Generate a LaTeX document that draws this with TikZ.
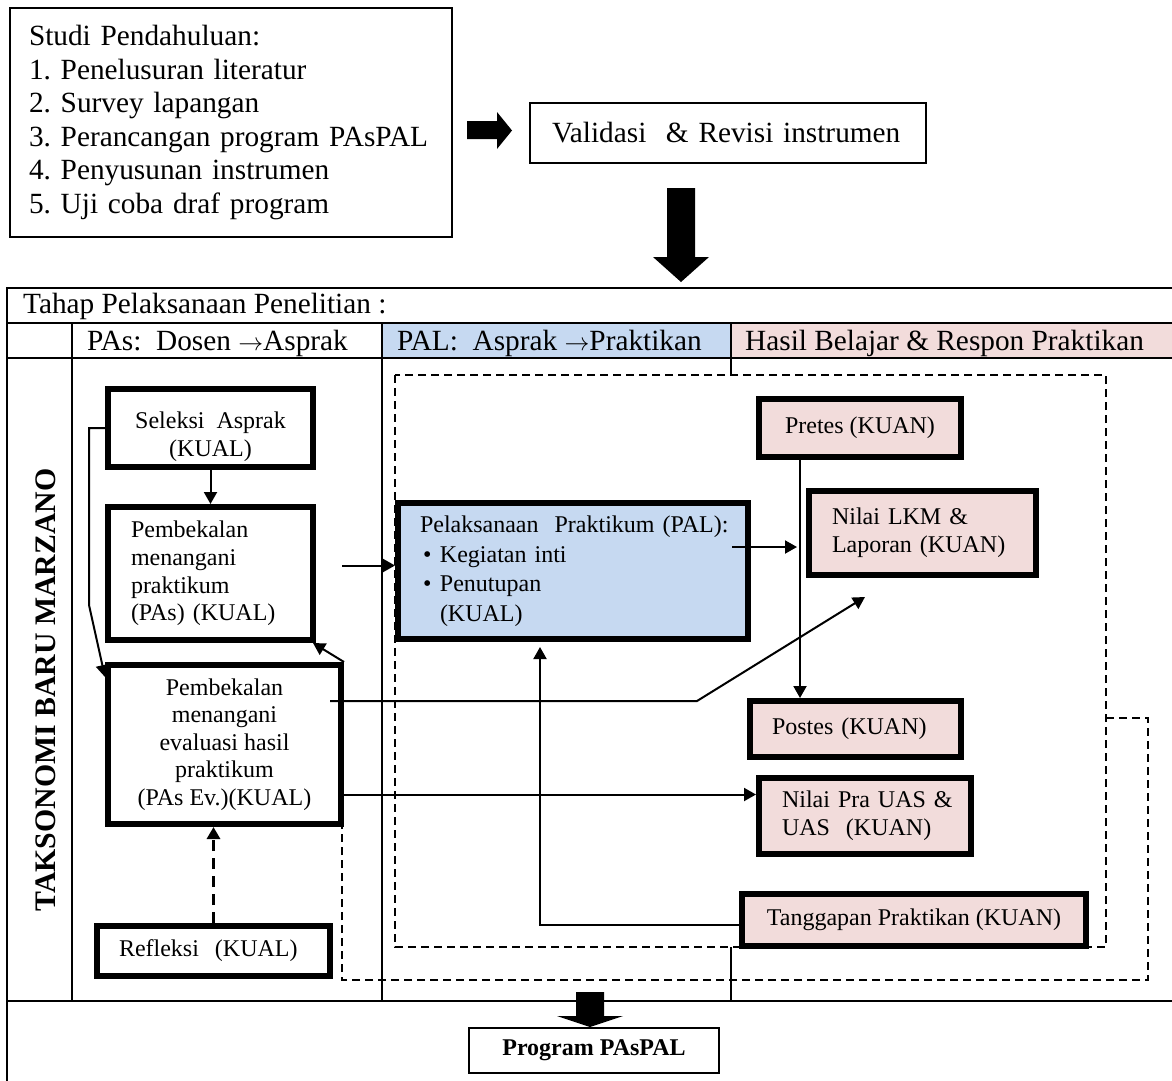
\documentclass[tikz,border=0pt]{standalone}
\usepackage{fontspec}
\setmainfont{Liberation Serif}
\usepackage{tikz}
\usetikzlibrary{arrows.meta}
\definecolor{palblue}{HTML}{C6D9F1}
\definecolor{hasilpink}{HTML}{F2DCDB}
\newcommand{\besar}{\fontsize{29.3}{33.6}\selectfont}
\newcommand{\kecil}{\fontsize{24}{27.6}\selectfont}
\frenchspacing
\tikzset{every edge/.style={draw},
  tebal/.style={draw, line width=5.7pt, inner sep=0pt, font=\kecil},
  tipis/.style={draw, line width=2pt, inner sep=0pt, font=\besar},
  panah/.style={line width=2pt, -{Triangle[length=12pt,width=13pt]}},
  putus/.style={line width=1.6pt, dash pattern=on 8pt off 5pt},
  garis/.style={line width=2pt}}

\begin{document}
\begin{tikzpicture}[x=1pt, y=-1pt]
    \useasboundingbox (0, 0) rectangle (1172, 1080);

    % studi pendahuluan
    \node[tipis, align=left, text width=404pt, minimum width=442pt, minimum height=229pt] at (231, 122.5) (studi) {Studi Pendahuluan:\\1. Penelusuran literatur\\2. Survey lapangan\\\mbox{3. Perancangan program PAsPAL}\\4. Penyusunan instrumen\\5. Uji coba draf program};
    \node[tipis, align=left, text width=352pt, minimum width=396pt, minimum height=60pt] at (728, 133) (valid) {Validasi\ \ \& Revisi instrumen};
    \fill (467, 121) -- (497, 121) -- (497, 112) -- (512, 130.5) -- (497, 149) -- (497, 139) -- (467, 139) -- cycle;
    \fill (667, 188) -- (695, 188) -- (695, 257) -- (709, 257) -- (681, 282) -- (653, 257) -- (667, 257) -- cycle;

    % tabel
    \fill[palblue] (382, 323) rectangle (731, 358);
    \fill[hasilpink] (731, 323) rectangle (1180, 358);
    \draw[garis] (7, 1090) -- (7, 288) -- (1180, 288);
    \draw[garis] (7, 323) -- (1180, 323);
    \draw[garis] (7, 358) -- (1180, 358);
    \draw[garis] (7, 1001) -- (1180, 1001);
    \draw[garis] (72, 323) -- (72, 1001);
    \draw[garis] (382, 323) -- (382, 1001);
    \draw[garis] (731, 323) -- (731, 375);
    \draw[garis] (731, 947) -- (731, 1001);
    \node[font=\besar, anchor=base west, inner sep=0pt] at (23, 313) (tahap) {Tahap Pelaksanaan Penelitian :};
    \node[font=\besar, anchor=base west, inner sep=0pt] at (87, 350) (kolPAs) {PAs:\ \ Dosen $\rightarrow$Asprak};
    \node[font=\besar, anchor=base west, inner sep=0pt] at (397, 350) (kolPAL) {PAL:\ \ Asprak $\rightarrow$Praktikan};
    \node[font=\besar, anchor=base west, inner sep=0pt] at (745, 350) (kolHasil) {Hasil Belajar \& Respon Praktikan};
    \node[font=\fontsize{29.8}{34}\selectfont, rotate=90] at (46, 690) (marzano) {\textbf{TAKSONOMI BARU MARZANO}};

    \draw[putus] (395, 375) rectangle (1106, 947);
    \draw[putus] (1106, 718) -- (1148, 718) -- (1148, 980) -- (342, 980) -- (342, 827);

    % kotak PAs
    \node[tebal, align=center, minimum width=205.3pt, minimum height=78.3pt] at (210.5, 428) (seleksi) {\rule{0pt}{34pt}Seleksi\ \ Asprak\\(KUAL)};
    \node[tebal, align=left, text width=159pt, minimum width=205.3pt, minimum height=133.3pt] at (210.5, 573.5) (pas) {Pembekalan\\menangani\\praktikum\\(PAs) (KUAL)};
    \node[tebal, align=center, minimum width=233.3pt, minimum height=159.3pt] at (224.5, 744.5) (pasev) {Pembekalan\\menangani\\evaluasi hasil\\praktikum\\(PAs Ev.)(KUAL)};
    \node[tebal, align=left, text width=189pt, minimum width=233.3pt, minimum height=50.3pt] at (213.5, 951) (refleksi) {Refleksi\ \ (KUAL)};

    % kotak PAL dan hasil
    \node[tebal, fill=palblue, align=left, text width=306pt, font=\fontsize{24}{29.5}\selectfont, minimum width=350.3pt, minimum height=136.3pt] at (573, 571) (pal) {\mbox{Pelaksanaan\ \ Praktikum (PAL):}\\\hspace*{3pt}\makebox[17pt][l]{\textbullet}Kegiatan inti\\\hspace*{3pt}\makebox[17pt][l]{\textbullet}Penutupan\\\hspace*{20pt}(KUAL)};
    \node[tebal, fill=hasilpink, minimum width=202.3pt, minimum height=58.3pt] at (860, 428) (pretes) {Pretes (KUAN)};
    \node[tebal, fill=hasilpink, align=left, text width=181pt, minimum width=227.3pt, minimum height=84.3pt] at (922.5, 533) (lkm) {Nilai LKM \&\\Laporan (KUAN)};
    \node[tebal, fill=hasilpink, align=left, text width=167pt, minimum width=211.3pt, minimum height=56.3pt] at (855.5, 729) (postes) {Postes (KUAN)};
    \node[tebal, fill=hasilpink, align=left, text width=166pt, minimum width=212.3pt, minimum height=76.3pt] at (865, 816) (prauas) {\mbox{Nilai Pra UAS \&}\\UAS\ \ (KUAN)};
    \node[tebal, fill=hasilpink, minimum width=344.3pt, minimum height=52.3pt] at (914, 920) (tanggapan) {Tanggapan Praktikan (KUAN)};

    \fill (576, 992) -- (604, 992) -- (604, 1016) -- (623, 1016) -- (590, 1027) -- (557, 1016) -- (576, 1016) -- cycle;
    \node[tipis, font=\kecil\bfseries, minimum width=250pt, minimum height=45pt] at (594, 1050.5) (program) {Program PAsPAL};

    \coordinate (cabang) at (800, 547);
    \coordinate (ujungLKM) at (865, 597);

    \draw (seleksi) edge[panah] (pas);
    \draw[panah] (seleksi.west) -- ++(-16, 0) -- ++(0, 177) -- ([yshift=-15pt]pasev.north west);
    \draw (pasev.north east) edge[panah] ([xshift=-3pt]pas.south east);
    \draw[panah, line width=3pt, dash pattern=on 11pt off 7pt] (refleksi.north) -- (refleksi.north |- pasev.south);
    \draw[panah] ([xshift=26pt, yshift=8pt]pas.east) -- ([yshift=8pt]pas.east -| pal.west);
    \draw[panah] ([xshift=-19pt, yshift=24pt]pal.east) -- ([xshift=-3pt]cabang);
    \draw[panah] (pretes.south -| cabang) -- (postes.north -| cabang);
    \draw[panah] ([xshift=-14pt, yshift=43.5pt]pasev.east) -- ++(367, 0) -- (ujungLKM);
    \draw[panah] ([yshift=-50pt]pasev.east) -- ([yshift=-50pt]pasev.east -| prauas.west);
    \draw[panah] ([yshift=-5pt]tanggapan.west) -| ([xshift=-33pt, yshift=-5pt]pal.south);
\end{tikzpicture}
\end{document}
